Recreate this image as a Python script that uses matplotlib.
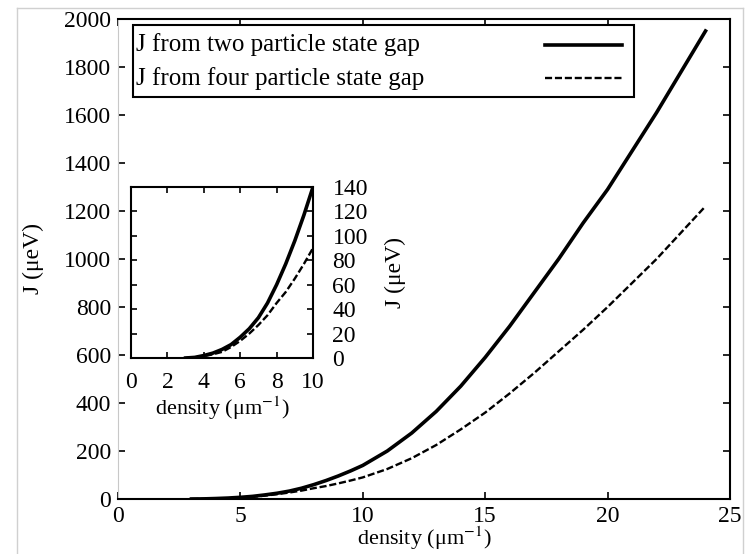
import matplotlib
matplotlib.use('Agg')
import matplotlib.pyplot as plt
from matplotlib.lines import Line2D
from matplotlib.patches import Rectangle

# density in 1/um, J in ueV
density = [3, 3.5, 4, 4.5, 5, 5.5, 6, 6.5, 7, 7.5, 8, 8.5, 9, 9.5, 10,
           11, 12, 13, 14, 15, 16, 17, 18, 19, 20, 21, 22, 23, 24]
J_two = [0, 0.5, 2, 4, 7, 11, 17, 24, 33, 45, 60, 77, 96, 117, 140,
         200, 275, 365, 470, 590, 720, 860, 1000, 1150, 1290, 1450, 1610, 1780, 1950]
J_four = [0, 0.5, 1.5, 3, 5, 9, 14, 20, 27, 35, 45, 54, 65, 77, 90,
          125, 170, 225, 290, 360, 440, 525, 615, 705, 800, 900, 1000, 1110, 1220]

label_two = 'J from two particle state gap'
label_four = 'J from four particle state gap'
xlabel = 'density (μm$^{-1}$)'
ylabel = 'J (μeV)'

plt.rcParams['font.family'] = ['Liberation Serif', 'DejaVu Serif']
plt.rcParams['mathtext.fontset'] = 'stix'
plt.rcParams['font.size'] = 17

W, H = 747, 554
fig = plt.figure(figsize=(W / 100, H / 100), dpi=100)

# light frame around the figure
for xs, ys in [([17, 743], [546, 546]), ([17, 17], [0, 546]), ([743, 743], [0, 546])]:
    fig.add_artist(Line2D([x / W for x in xs], [y / H for y in ys], color='#d0d0d0', lw=1))

# main axes
ax = fig.add_axes([118 / W, 1 - 499 / H, (730 - 118) / W, (499 - 19) / H])
ax.plot(density, J_two, color='k', lw=2.6)
ax.plot(density, J_four, color='k', lw=1.7, dashes=(3, 1.2))
ax.set_xlim(0, 25)
ax.set_ylim(0, 2000)
ax.set_xticks([0, 5, 10, 15, 20, 25])
ax.set_yticks(range(0, 2001, 200))
ax.tick_params(direction='in', top=True, right=True, length=5, width=1.2)
ax.tick_params(axis='x', pad=5)
ax.tick_params(axis='y', pad=5)
for s in ['top', 'right', 'bottom']:
    ax.spines[s].set_linewidth(1.5)
ax.spines['left'].set_color('#c8c8c8')
ax.set_xlabel(xlabel, labelpad=-2, fontsize=16)
ax.set_ylabel(ylabel, labelpad=14)

# legend box, gnuplot style (text left, sample right)
ax.add_patch(Rectangle((0.0245, 0.8375), 0.8185, 0.15, transform=ax.transAxes,
                       facecolor='white', edgecolor='k', lw=1.5, zorder=5))
for yy, lab, style in [(0.946, label_two, dict(lw=2.6)),
                       (0.877, label_four, dict(lw=1.7, dashes=(3, 1.2)))]:
    ax.text(0.0294, yy, lab, transform=ax.transAxes, va='center', ha='left',
            fontsize=18, zorder=6)
    ax.plot([0.698, 0.8235], [yy, yy], transform=ax.transAxes, color='k',
            zorder=6, **style)

# inset
ins = fig.add_axes([131 / W, 1 - 358 / H, (313 - 131) / W, (358 - 187) / H])
ins.plot(density, J_two, color='k', lw=2.6)
ins.plot(density, J_four, color='k', lw=1.7, dashes=(3, 1.2))
ins.set_xlim(0, 10)
ins.set_ylim(0, 140)
ins.set_xticks(range(0, 11, 2))
ins.set_yticks(range(0, 141, 20))
ins.tick_params(direction='in', top=True, right=True, left=True,
                labelleft=False, labelright=True, length=4, width=1.2)
ins.tick_params(axis='x', pad=10)
ins.tick_params(axis='y', pad=14)
for s in ins.spines.values():
    s.set_linewidth(1.5)
ins.yaxis.set_label_position('right')
ins.set_xlabel(xlabel, labelpad=1, fontsize=16)
ins.set_ylabel(ylabel, labelpad=12)

plt.savefig('out.png', dpi=100)
